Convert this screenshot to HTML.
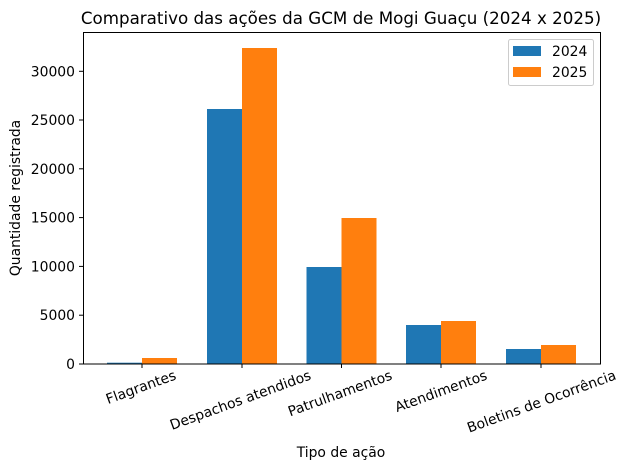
<!DOCTYPE html>
<html><head><meta charset="utf-8"><style>body{margin:0;background:#fff}svg{display:block}text{font-family:"DejaVu Sans","Liberation Sans",sans-serif;fill:#000}</style></head>
<body>
<svg width="627" height="470" viewBox="0 0 627 470" xmlns="http://www.w3.org/2000/svg">
<rect width="627" height="470" fill="#fff"/>
<text x="341" y="24" font-size="16.7" text-anchor="middle">Comparativo das ações da GCM de Mogi Guaçu (2024 x 2025)</text>
<g fill="#1f77b4">
<rect x="107" y="362.7" width="35" height="1.3"/>
<rect x="207" y="109" width="35" height="255"/>
<rect x="306.5" y="267" width="35" height="97"/>
<rect x="406" y="325" width="35" height="39"/>
<rect x="506" y="349" width="35" height="15"/>
</g>
<g fill="#ff7f0e">
<rect x="142" y="358" width="35" height="6"/>
<rect x="242" y="48" width="35" height="316"/>
<rect x="341.5" y="218" width="35" height="146"/>
<rect x="441" y="321" width="35" height="43"/>
<rect x="541" y="345" width="35" height="19"/>
</g>
<rect x="83.5" y="32.5" width="517" height="331.5" fill="none" stroke="#000" stroke-width="1"/>
<g stroke="#000" stroke-width="1">
<line x1="79" y1="364" x2="83" y2="364"/><line x1="79" y1="315.2" x2="83" y2="315.2"/><line x1="79" y1="266.4" x2="83" y2="266.4"/><line x1="79" y1="217.6" x2="83" y2="217.6"/><line x1="79" y1="168.8" x2="83" y2="168.8"/><line x1="79" y1="120" x2="83" y2="120"/><line x1="79" y1="71.3" x2="83" y2="71.3"/>
<line x1="142" y1="364" x2="142" y2="368"/><line x1="242" y1="364" x2="242" y2="368"/><line x1="341.5" y1="364" x2="341.5" y2="368"/><line x1="441" y1="364" x2="441" y2="368"/><line x1="541" y1="364" x2="541" y2="368"/>
</g>
<g font-size="13.9" text-anchor="end">
<text x="75" y="369">0</text><text x="75" y="320.2">5000</text><text x="75" y="271.4">10000</text><text x="75" y="222.6">15000</text><text x="75" y="173.8">20000</text><text x="75" y="125">25000</text><text x="75" y="76.3">30000</text>
</g>
<text transform="translate(20,198) rotate(-90)" font-size="13.9" text-anchor="middle">Quantidade registrada</text>
<g font-size="13.9" text-anchor="end">
<text transform="translate(177,379) rotate(-20)">Flagrantes</text>
<text transform="translate(312,379) rotate(-20)">Despachos atendidos</text>
<text transform="translate(393,379) rotate(-20)">Patrulhamentos</text>
<text transform="translate(488,379) rotate(-20)">Atendimentos</text>
<text transform="translate(617,379) rotate(-20)">Boletins de Ocorrência</text>
</g>
<text x="341" y="457" font-size="13.9" text-anchor="middle">Tipo de ação</text>
<rect x="508.5" y="39.5" width="85" height="46" rx="2" fill="#fff" stroke="#ccc"/>
<rect x="513" y="46" width="28" height="10" fill="#1f77b4"/>
<rect x="513" y="67" width="28" height="10" fill="#ff7f0e"/>
<text x="552" y="56" font-size="13.9">2024</text>
<text x="552" y="77" font-size="13.9">2025</text>
</svg>
</body></html>
